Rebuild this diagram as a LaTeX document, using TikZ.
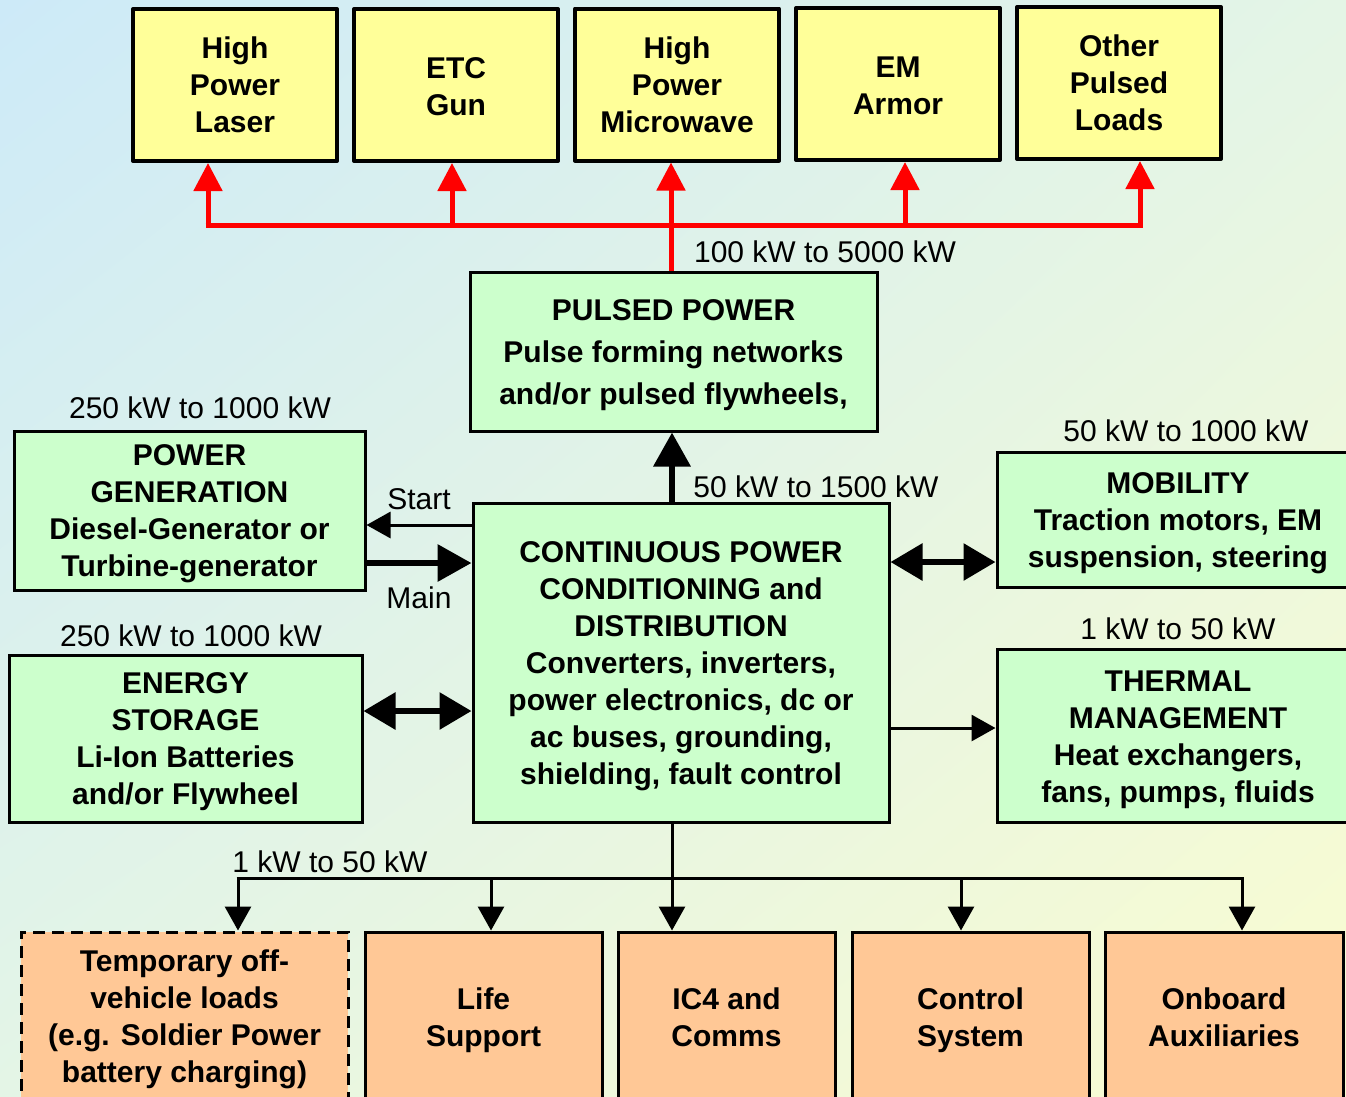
\documentclass[tikz,border=0pt]{standalone}
\usepackage{fontspec}
\setmainfont{Liberation Sans}
\usetikzlibrary{arrows.meta,calc,shadings}
\definecolor{bgtl}{RGB}{205,234,248}
\definecolor{bgbr}{RGB}{250,252,208}
\definecolor{bgmix}{RGB}{228,245,230}
\definecolor{yfill}{RGB}{255,255,153}
\definecolor{gfill}{RGB}{204,255,204}
\definecolor{ofill}{RGB}{255,200,150}
\definecolor{redline}{RGB}{255,0,0}
\tikzset{
  boxtext/.style={align=center, font=\bfseries\fontsize{30}{37}\selectfont, inner sep=0pt},
  ybox/.style={boxtext, draw, fill=yfill, line width=4pt, line join=round, minimum width=204pt, minimum height=152pt},
  gbox/.style={boxtext, draw, fill=gfill, line width=3pt},
  obox/.style={boxtext, draw, fill=ofill, line width=3pt, minimum height=168pt},
  lbl/.style={font=\fontsize{30}{36}\selectfont, inner sep=0pt},
  redarrow/.style={draw=redline, line width=5pt, -{Triangle[width=28pt,length=28pt]}},
  redline/.style={draw=redline, line width=5pt},
  bigarrow/.style={line width=6.5pt, -{Triangle[width=36pt,length=34pt]}},
  bigdouble/.style={line width=6pt, {Triangle[width=36pt,length=32pt]}-{Triangle[width=36pt,length=32pt]}},
  thinarrow/.style={line width=3pt, -{Triangle[width=26pt,length=24pt]}},
}
\begin{document}
\begin{tikzpicture}[x=1pt,y=-1pt]
\path[use as bounding box] (0,0) rectangle (1346,1096);
\clip (0,0) rectangle (1346,1096);
\shade[upper left=bgtl, lower right=bgbr, upper right=bgmix, lower left=bgmix] (0,0) rectangle (1346,1096);

% top loads
\node[ybox] (laser) at (235,85) {High\\Power\\Laser};
\node[ybox, label={[boxtext,yshift=-2pt]center:{ETC\\Gun}}] (etc) at (456,85) {};
\node[ybox] (hpm) at (677,84.5) {High\\Power\\Microwave};
\node[ybox, label={[boxtext,yshift=-2pt]center:{EM\\Armor}}] (em) at (898,84) {};
\node[ybox] (other) at (1119,83) {Other\\Pulsed\\Loads};

% pulsed power
\node[gbox, minimum width=407pt, minimum height=159pt,
  label={[boxtext, font=\bfseries\fontsize{30}{42}\selectfont, yshift=-4pt]center:{PULSED POWER\\Pulse forming networks\\and/or pulsed flywheels,}}] (pulsed) at (673.5,351.5) {};

% left boxes
\node[gbox, minimum width=351pt, minimum height=159pt,
  label={[boxtext,yshift=-3pt]center:{POWER\\GENERATION\\Diesel-Generator or\\Turbine-generator}}] (gen) at (189.5,510.5) {};
\node[gbox, minimum width=353pt, minimum height=167pt,
  label={[boxtext,yshift=-3pt]center:{ENERGY\\STORAGE\\Li-Ion Batteries\\and/or Flywheel}}] (stor) at (185.5,738.5) {};

% centre
\node[gbox, minimum width=416pt, minimum height=319pt,
  label={[boxtext,yshift=-4pt]center:{CONTINUOUS POWER\\CONDITIONING and\\DISTRIBUTION\\Converters, inverters,\\power electronics, dc or\\ac buses, grounding,\\shielding, fault control}}] (cont) at (681,662.5) {};

% right boxes
\node[gbox, minimum width=362pt, minimum height=135pt,
  label={[boxtext,yshift=-4pt]center:{MOBILITY\\Traction motors, EM\\suspension, steering}}] (mob) at (1178,519.5) {};
\node[gbox, minimum width=362pt, minimum height=173pt,
  label={[boxtext,yshift=-4pt]center:{THERMAL\\MANAGEMENT\\Heat exchangers,\\fans, pumps, fluids}}] (therm) at (1178,735.5) {};

% bottom loads
\node[obox, dash pattern=on 12pt off 7pt, minimum width=327pt,
  label={[boxtext,yshift=-3pt]center:{Temporary off-\\vehicle loads\\(e.g. Soldier Power\\battery charging)}}] (temp) at (184.5,1016) {};
\node[obox, minimum width=237pt, label={[boxtext,yshift=-4pt]center:{Life\\Support}}] (life) at (483.5,1016) {};
\node[obox, minimum width=217pt, label={[boxtext,yshift=-1pt]center:{IC4 and\\Comms}}] (ic4) at (726.5,1016) {};
\node[obox, minimum width=237pt, label={[boxtext,yshift=-4pt]center:{Control\\System}}] (ctrl) at (970.5,1016) {};
\node[obox, minimum width=238pt, label={[boxtext,yshift=-1pt]center:{Onboard\\Auxiliaries}}] (aux) at (1224,1016) {};

% labels
\node[lbl] (l100) at (825,252) {100 kW to 5000 kW};
\node[lbl] (l50a) at (816,487) {50 kW to 1500 kW};
\node[lbl] (l250a) at (200,408) {250 kW to 1000 kW};
\node[lbl] (l250b) at (191,636) {250 kW to 1000 kW};
\node[lbl] (lstart) at (419,499) {Start};
\node[lbl] (lmain) at (419,598) {Main};
\node[lbl] (l50b) at (1186,431) {50 kW to 1000 kW};
\node[lbl] (l1a) at (1178,629) {1 kW to 50 kW};
\node[lbl] (l1b) at (330,862) {1 kW to 50 kW};

% red pulsed distribution
\coordinate (r1) at (208,225);
\coordinate (r2) at (452,225);
\coordinate (r3) at (671,225);
\coordinate (r4) at (905,225);
\coordinate (r5) at (1140,225);
\draw[redline] ([xshift=-2.5pt]r1) -- ([xshift=2.5pt]r5);
\draw[redline] (r3 |- pulsed.north) -- (r3);
\draw[redarrow] (r1) -- (r1 |- laser.south);
\draw[redarrow] (r2) -- (r2 |- etc.south);
\draw[redarrow] (r3) -- (r3 |- hpm.south);
\draw[redarrow] (r4) -- (r4 |- em.south);
\draw[redarrow] (r5) -- (r5 |- other.south);

% continuous -> pulsed
\coordinate (cp) at (672,470);
\draw[bigarrow] (cp |- cont.north) -- (cp |- pulsed.south);

% generation
\coordinate (ys) at (0,525);
\coordinate (ym) at (0,563);
\draw[thinarrow] (cont.west |- ys) -- (gen.east |- ys);
\draw[bigarrow] (gen.east |- ym) -- (cont.west |- ym);

% storage
\coordinate (ye) at (0,711);
\draw[bigdouble] (stor.east |- ye) -- (cont.west |- ye);

% mobility / thermal
\coordinate (ymo) at (0,562);
\coordinate (yth) at (0,728);
\draw[bigdouble] (cont.east |- ymo) -- (mob.west |- ymo);
\draw[thinarrow] (cont.east |- yth) -- (therm.west |- yth);

% bottom distribution
\coordinate (b1) at (238,878);
\coordinate (b2) at (491,878);
\coordinate (b3) at (672,878);
\coordinate (b4) at (961,878);
\coordinate (b5) at (1242,878);
\draw[line width=3pt] ([xshift=-1.5pt]b1) -- ([xshift=1.5pt]b5);
\draw[thinarrow] (b3 |- cont.south) -- (b3 |- ic4.north);
\draw[thinarrow] (b1) -- (b1 |- temp.north);
\draw[thinarrow] (b2) -- (b2 |- life.north);
\draw[thinarrow] (b4) -- (b4 |- ctrl.north);
\draw[thinarrow] (b5) -- (b5 |- aux.north);
\end{tikzpicture}
\end{document}
